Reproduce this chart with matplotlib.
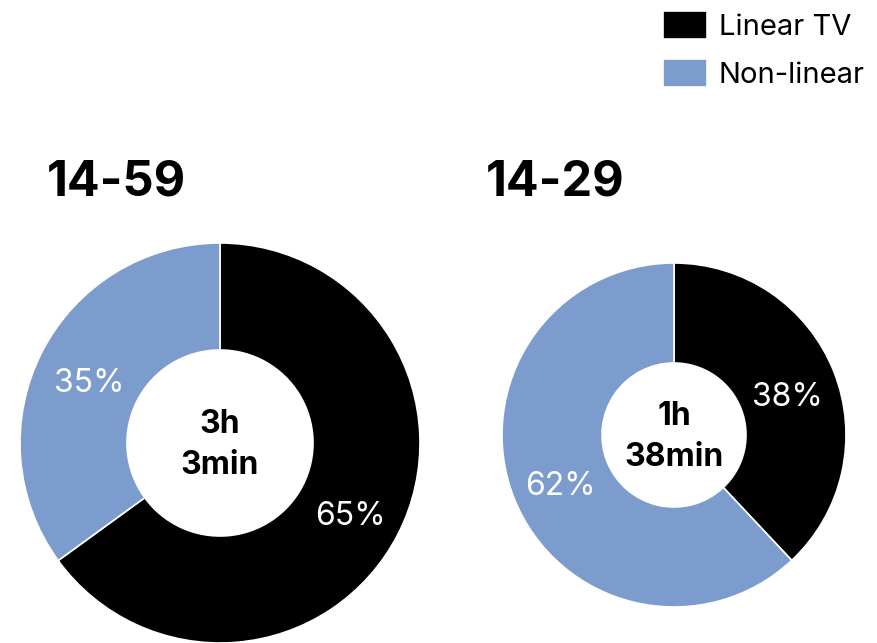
import matplotlib.pyplot as plt

plt.rcParams['font.family'] = ['Inter', 'DejaVu Sans']

# Share of viewing time, linear vs non-linear
series = ['Linear TV', 'Non-linear']
colors = ['#000000', '#7b9ccc']
groups = ['14-59', '14-29']
shares = [[65, 35], [38, 62]]
totals = ['3h\n3min', '1h\n38min']

W, H = 877, 643
fig = plt.figure(figsize=(W / 100, H / 100), dpi=100)

# donut placement in pixels: centre x, centre y (from top), outer radius, inner radius
layout = [(220, 443, 200, 93), (674, 435, 172, 72)]
title_x = [47, 486]

wedges = None
for g, vals, total, (cx, cy, r, ri), tx in zip(groups, shares, totals, layout, title_x):
    ax = fig.add_axes([(cx - r) / W, (H - cy - r) / H, 2 * r / W, 2 * r / H])
    w, _, autotexts = ax.pie(vals, colors=colors, startangle=90, counterclock=False,
                             autopct='%d%%', pctdistance=(1 + ri / r) / 2,
                             wedgeprops=dict(width=1 - ri / r, edgecolor='white', linewidth=1.2),
                             textprops=dict(color='white', fontsize=23))
    # nudge the percentages a little below the ring midline
    for t in autotexts:
        x, y = t.get_position()
        t.set_position((x, y - 7 / r))
    ax.set_xlim(-1, 1)
    ax.set_ylim(-1, 1)
    ax.text(0, -2 / r, total, ha='center', va='center', fontsize=23, fontweight='bold',
            linespacing=1.4)
    fig.text(tx / W, (H - 195) / H, g, fontsize=35, fontweight='bold', ha='left', va='baseline')
    if wedges is None:
        wedges = w

fig.legend(wedges, series, loc='upper right', bbox_to_anchor=(1.0 + 8 / W, 1.0 + 9 / H),
           frameon=False, fontsize=21, handlelength=1.5, handleheight=1.1, handletextpad=0.4,
           labelspacing=0.6, borderaxespad=0.3)

fig.savefig('out.png', dpi=100)
